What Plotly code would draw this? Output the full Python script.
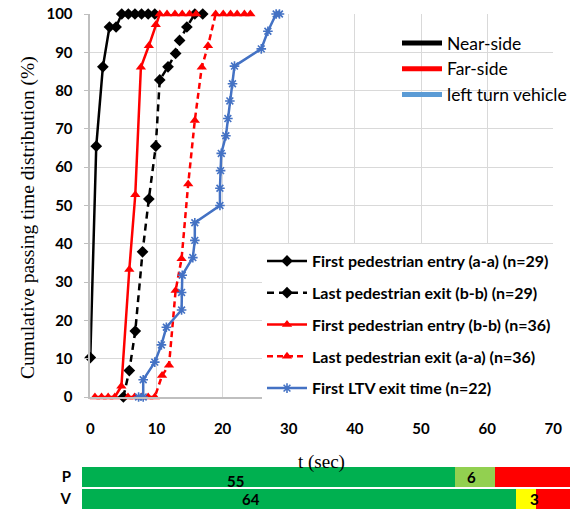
import plotly.graph_objects as go

# ---------------- data ----------------
near_entry_t = [0, 0.9, 1.9, 2.9, 3.9, 4.75, 5.75, 6.75, 7.75, 8.75, 9.75]
near_entry_p = [10.3, 65.5, 86.2, 96.6, 96.6, 100, 100, 100, 100, 100, 100]

near_exit_t = [5.0, 5.9, 6.8, 7.9, 8.85, 9.9, 10.5, 11.75, 12.9, 13.5, 14.6, 15.8, 17.0]
near_exit_p = [0, 6.9, 17.2, 37.9, 51.7, 65.5, 82.8, 86.2, 89.7, 93.1, 96.6, 100, 100]

far_entry_t = [0.7, 1.7, 2.7, 3.7, 4.7, 5.9, 6.8, 7.65, 8.85, 9.9, 10.5, 11.6, 12.8, 13.9, 15.0, 16.0]
far_entry_p = [0, 0, 0, 0, 2.8, 33.3, 52.8, 86.1, 91.7, 97.2, 100, 100, 100, 100, 100, 100]

far_exit_t = [5.7, 6.7, 7.75, 8.75, 9.75, 10.85, 11.9, 12.9, 13.8, 14.8, 15.8, 16.85, 17.8,
              18.95, 20.1, 21.2, 22.2, 23.3, 24.2]
far_exit_p = [0, 0, 0, 0, 0, 5.6, 8.3, 27.8, 36.1, 55.6, 72.2, 86.1, 91.7,
              100, 100, 100, 100, 100, 100]

ltv_t = [7.3, 8.0, 8.0, 9.75, 10.75, 11.5, 13.8, 13.8, 13.9, 15.5, 15.8, 15.8, 19.6, 19.6,
         19.7, 19.8, 20.5, 20.8, 21.1, 21.5, 21.8, 25.85, 26.85, 28.1, 28.6]
ltv_p = [0, 0, 4.5, 9.1, 13.6, 18.2, 22.7, 27.3, 31.8, 36.4, 40.9, 45.5, 50.0, 54.5,
         59.1, 63.6, 68.2, 72.7, 77.3, 81.8, 86.4, 90.9, 95.5, 100, 100]

series_names = ["First pedestrian entry (a-a) (n=29)",
                "Last pedestrian exit (b-b) (n=29)",
                "First pedestrian entry (b-b) (n=36)",
                "Last pedestrian exit (a-a) (n=36)",
                "First LTV exit time (n=22)"]

group_names = ["Near-side", "Far-side", "left turn vehicle"]

phase_rows = ["P", "V"]
phase_green = [55, 64]
phase_mid = [6, 3]
phase_red = [11, 5]

x_ticks = [0, 10, 20, 30, 40, 50, 60, 70]
y_ticks = [0, 10, 20, 30, 40, 50, 60, 70, 80, 90, 100]

# ---------------- figure ----------------
W, H = 576, 510
BLACK, RED, BLUE, LBLUE = "#000000", "#FF0000", "#4472C4", "#5B9BD5"
TICKFONT = dict(family="Lato", size=15, color="#000000", weight="bold")
LEGFONT = dict(family="Lato", size=16, color="#000000", weight="bold")

fig = go.Figure()

def add_series(x, y, name, color, dash, symbol, msize, grp):
    mk = dict(symbol=symbol, size=msize, color=color)
    if symbol.startswith("asterisk"):
        mk["line"] = dict(color=color, width=1.6)
    fig.add_trace(go.Scatter(
        x=x, y=y, name=name, mode="lines+markers",
        line=dict(color=color, width=2.5, dash=dash),
        marker=mk, cliponaxis=False, legendgroup=grp,
        xaxis="x", yaxis="y", legend="legend"))

add_series(near_entry_t, near_entry_p, series_names[0], BLACK, "solid", "diamond", 9, "g1")
add_series(near_exit_t, near_exit_p, series_names[1], BLACK, "7px,5px", "diamond", 9, "g2")
add_series(far_entry_t, far_entry_p, series_names[2], RED, "solid", "triangle-up", 9, "g3")
add_series(far_exit_t, far_exit_p, series_names[3], RED, "6px,4px", "triangle-up", 9, "g4")
add_series(ltv_t, ltv_p, series_names[4], BLUE, "solid", "asterisk-open", 8, "g5")

for nm, col, g in zip(group_names, [BLACK, RED, LBLUE], ["h1", "h2", "h3"]):
    fig.add_trace(go.Scatter(x=[None], y=[None], name=nm, mode="lines",
                             line=dict(color=col, width=5), legend="legend2",
                             legendgroup=g, xaxis="x", yaxis="y"))

# phase bars
fig.add_trace(go.Bar(y=phase_rows, x=phase_green, orientation="h", marker_color="#00B050",
                     marker_line_width=0, xaxis="x2", yaxis="y2", showlegend=False))
fig.add_trace(go.Bar(y=phase_rows, x=phase_mid, orientation="h",
                     marker_color=["#92D050", "#FFFF00"], marker_line_width=0,
                     xaxis="x2", yaxis="y2", showlegend=False))
fig.add_trace(go.Bar(y=phase_rows, x=phase_red, orientation="h", marker_color="#FF0000",
                     marker_line_width=0, xaxis="x2", yaxis="y2", showlegend=False))

def px_x(p):
    return p / W

def px_y(p):
    return 1 - p / H

fig.update_layout(
    template="none",
    width=W, height=H, margin=dict(l=0, r=0, t=0, b=0, pad=0, autoexpand=False),
    paper_bgcolor="white", plot_bgcolor="rgba(0,0,0,0)",
    barmode="stack", bargap=0.12,
    xaxis=dict(domain=[px_x(90.3), px_x(553.3)], range=[0, 70], tickvals=x_ticks,
               showgrid=True, gridcolor="#D9D9D9", gridwidth=1, zeroline=False,
               showline=True, linecolor="#BFBFBF", linewidth=1.5, automargin=False,
               ticks="", ticklabelstandoff=17, tickfont=TICKFONT, anchor="y"),
    yaxis=dict(domain=[px_y(397), px_y(14)], range=[0, 100], tickvals=y_ticks,
               showgrid=True, gridcolor="#D9D9D9", gridwidth=1, zeroline=False,
               showline=True, linecolor="#BFBFBF", linewidth=1.5, automargin=False,
               ticks="outside", ticklen=5, tickcolor="#BFBFBF",
               ticklabelstandoff=8, tickfont=TICKFONT, anchor="x"),
    xaxis2=dict(domain=[px_x(82), px_x(570)], range=[0, 72], visible=False,
                automargin=False, anchor="y2"),
    yaxis2=dict(domain=[px_y(510), px_y(466)], type="category",
                categoryorder="array", categoryarray=["V", "P"], range=[-0.5, 1.5],
                showgrid=False, showline=False, zeroline=False, ticks="",
                automargin=False, ticklabelstandoff=10, tickfont=TICKFONT, anchor="x2"),
    legend=dict(x=px_x(262), y=px_y(244), xanchor="left", yanchor="top",
                bgcolor="white", font=LEGFONT, tracegroupgap=8, itemwidth=40,
                traceorder="grouped"),
    legend2=dict(x=px_x(397), y=px_y(25), xanchor="left", yanchor="top",
                 bgcolor="rgba(0,0,0,0)", font=dict(family="Lato", size=17.5, color="#000000"),
                 tracegroupgap=0, itemwidth=40, traceorder="grouped"),
    annotations=[
        dict(text="Cumulative passing time distribution (%)", textangle=-90,
             x=px_x(28), y=px_y(218), xref="paper", yref="paper",
             xanchor="center", yanchor="middle", showarrow=False,
             font=dict(family="Liberation Serif", size=19.5, color="#000000")),
        dict(text="t (sec)", x=px_x(321), y=px_y(462), xref="paper", yref="paper",
             xanchor="center", yanchor="middle", showarrow=False,
             font=dict(family="Liberation Serif", size=19, color="#000000")),
        dict(text="55", x=22.6, y="P", xref="x2", yref="y2", yshift=-4, showarrow=False, font=TICKFONT),
        dict(text="6", x=57.5, y="P", xref="x2", yref="y2", showarrow=False, font=TICKFONT),
        dict(text="64", x=24.9, y="V", xref="x2", yref="y2", showarrow=False, font=TICKFONT),
        dict(text="3", x=66.7, y="V", xref="x2", yref="y2", showarrow=False, font=TICKFONT),
    ],
)

fig.write_html("out.html")
